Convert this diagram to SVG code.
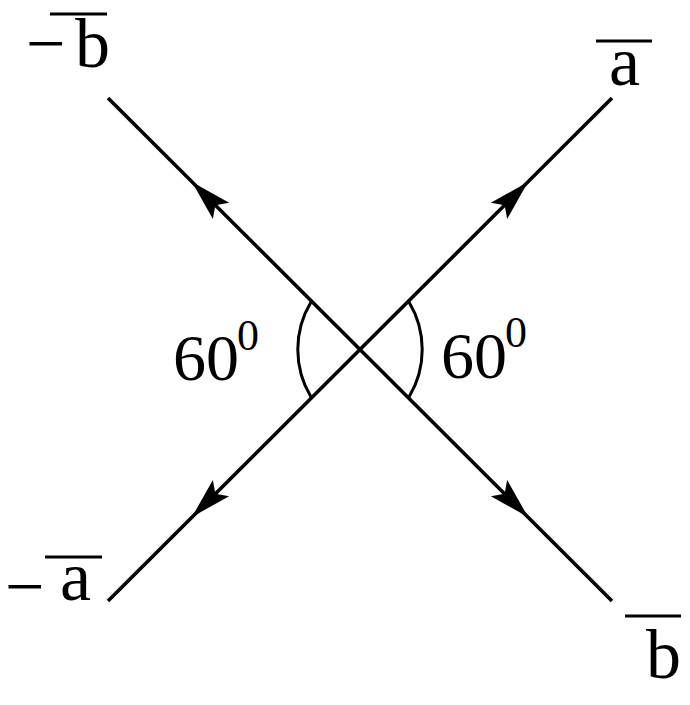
<svg xmlns="http://www.w3.org/2000/svg" width="690" height="705" viewBox="0 0 690 705">
<style>
.ln{stroke:#000;stroke-width:3.6;fill:none}
.arc{stroke:#000;stroke-width:3;fill:none}
.bar{stroke:#000;stroke-width:3}
</style>
<defs>
<path id="ah" d="M0,0 L-41,-11.5 L-33,0 L-41,11.5 Z" fill="#000" stroke="none"/>
</defs>
<rect width="690" height="705" fill="#fff"/>
<g id="connectors">
<line class="ln" x1="108" y1="98" x2="612" y2="601"/>
<line class="ln" x1="612" y1="98" x2="108" y2="601"/>
<use href="#ah" transform="translate(192,182) rotate(-135)"/>
<use href="#ah" transform="translate(528,182) rotate(-45)"/>
<use href="#ah" transform="translate(192,517) rotate(135)"/>
<use href="#ah" transform="translate(528,517) rotate(45)"/>
</g>
<g id="angle-left">
<path class="arc" d="M311,302 A92,92 0 0 0 311,397"/>
<text x="173" y="380" font-size="66" font-family="Liberation Serif">60</text>
<text x="237" y="350" font-size="44" font-family="Liberation Serif">0</text>
</g>
<g id="angle-right">
<path class="arc" d="M409,302 A92,92 0 0 1 409,397"/>
<text x="441" y="378" font-size="66" font-family="Liberation Serif">60</text>
<text x="505" y="347" font-size="44" font-family="Liberation Serif">0</text>
</g>
<g id="label-neg-b">
<text x="26" y="67" font-size="70" font-family="Liberation Serif">−</text>
<text x="75" y="67" font-size="70" font-family="Liberation Serif">b</text>
<line class="bar" x1="50" y1="14" x2="107" y2="14"/>
</g>
<g id="label-a">
<text x="609" y="85" font-size="70" font-family="Liberation Serif">a</text>
<line class="bar" x1="596" y1="41" x2="652" y2="41"/>
</g>
<g id="label-neg-a">
<text x="5" y="610" font-size="70" font-family="Liberation Serif">−</text>
<text x="60" y="600" font-size="70" font-family="Liberation Serif">a</text>
<line class="bar" x1="45" y1="557" x2="102" y2="557"/>
</g>
<g id="label-b">
<text x="646" y="678" font-size="70" font-family="Liberation Serif">b</text>
<line class="bar" x1="625" y1="616" x2="681" y2="616"/>
</g>
</svg>
